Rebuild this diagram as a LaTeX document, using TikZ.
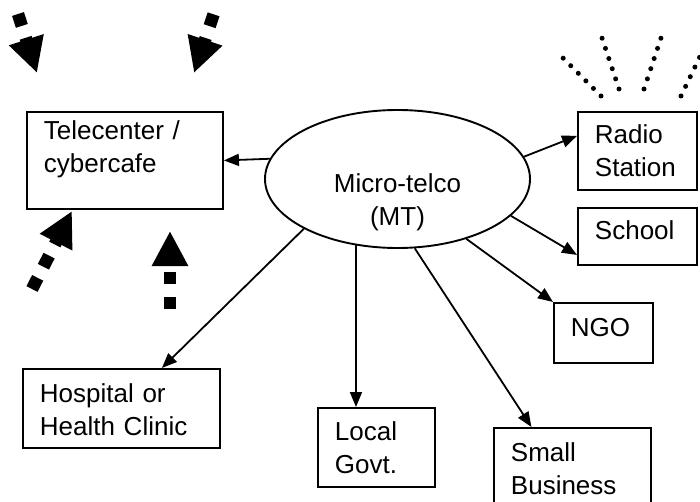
\documentclass[tikz,border=0pt]{standalone}
\usepackage{fontspec}
\setmainfont{Liberation Sans}
\usetikzlibrary{arrows.meta,shapes.geometric}

\begin{document}
\begin{tikzpicture}[x=1pt, y=-1pt, >={Triangle[length=15pt,width=12pt]},
  every node/.style={font=\fontsize{26}{33}\selectfont},
  box/.style={draw, line width=1.9pt, anchor=north west, inner xsep=17pt, inner ysep=0pt, align=left},
  link/.style={->, line width=1.8pt},
  signal/.style={line width=12.5pt, dash pattern=on 12.5pt off 12.5pt, -{Triangle[length=35pt,width=34pt]}},
  wave/.style={line width=5pt, line cap=round, dash pattern=on 0pt off 10.7pt}]
  \useasboundingbox (0,0) rectangle (700,502);
  \clip (0,0) rectangle (700,502);

  % hub
  \node[draw, ellipse, line width=1.9pt, minimum width=265pt, minimum height=138pt, inner sep=0pt,
        text width=160pt, align=center, text height=28pt, text depth=0pt] (mt) at (397.5,179) {Micro-telco\\(MT)};

  % partners
  \node[box, text width=162pt, text height=28pt, text depth=69pt] (tc) at (26,111) {Telecenter /\\cybercafe};
  \node[box, text width=85pt, text height=32pt, text depth=46pt] (radio) at (577,111) {Radio\\Station};
  \node[box, text width=85pt, text height=32pt, text depth=25pt] (school) at (577,207) {School};
  \node[box, text width=65pt, text height=34pt, text depth=26pt] (ngo) at (553,302) {NGO};
  \node[box, text width=83pt, text height=33pt, text depth=46pt] (govt) at (317,407) {Local\\Govt.};
  \node[box, text width=123pt, text height=34pt, text depth=49pt] (biz) at (493,427) {Small\\Business};
  \node[box, text width=163pt, text height=34pt, text depth=45pt] (hosp) at (22,368) {Hospital or\\Health Clinic};

  \draw[link] (mt.171) -- (tc.east);
  \draw[link] (mt.10) -- (radio.166);
  \draw[link] (mt.-18) -- (school.197);
  \draw[link] (mt.-41) -- (ngo.north west);
  \draw[link] (mt.208) -- (hosp.45);
  \draw[link] (mt.238) -- (govt.north -| mt.238);
  \draw[link] (mt.-76) -- (biz.134);

  % wireless links round the telecenter
  \draw[signal] (18,14) -- (37,73);
  \draw[signal] (213.6,14.3) -- (194,73);
  \draw[signal] (32,289) -- (72,211);
  \draw[signal] (170,309) -- (170,231);

  % broadcast waves
  \draw[wave] (601,96) -- (563,58);
  \draw[wave] (619,89) -- (602,38);
  \draw[wave] (644,89) -- (661,38);
  \draw[wave] (681,96) -- (705,46);
\end{tikzpicture}
\end{document}
